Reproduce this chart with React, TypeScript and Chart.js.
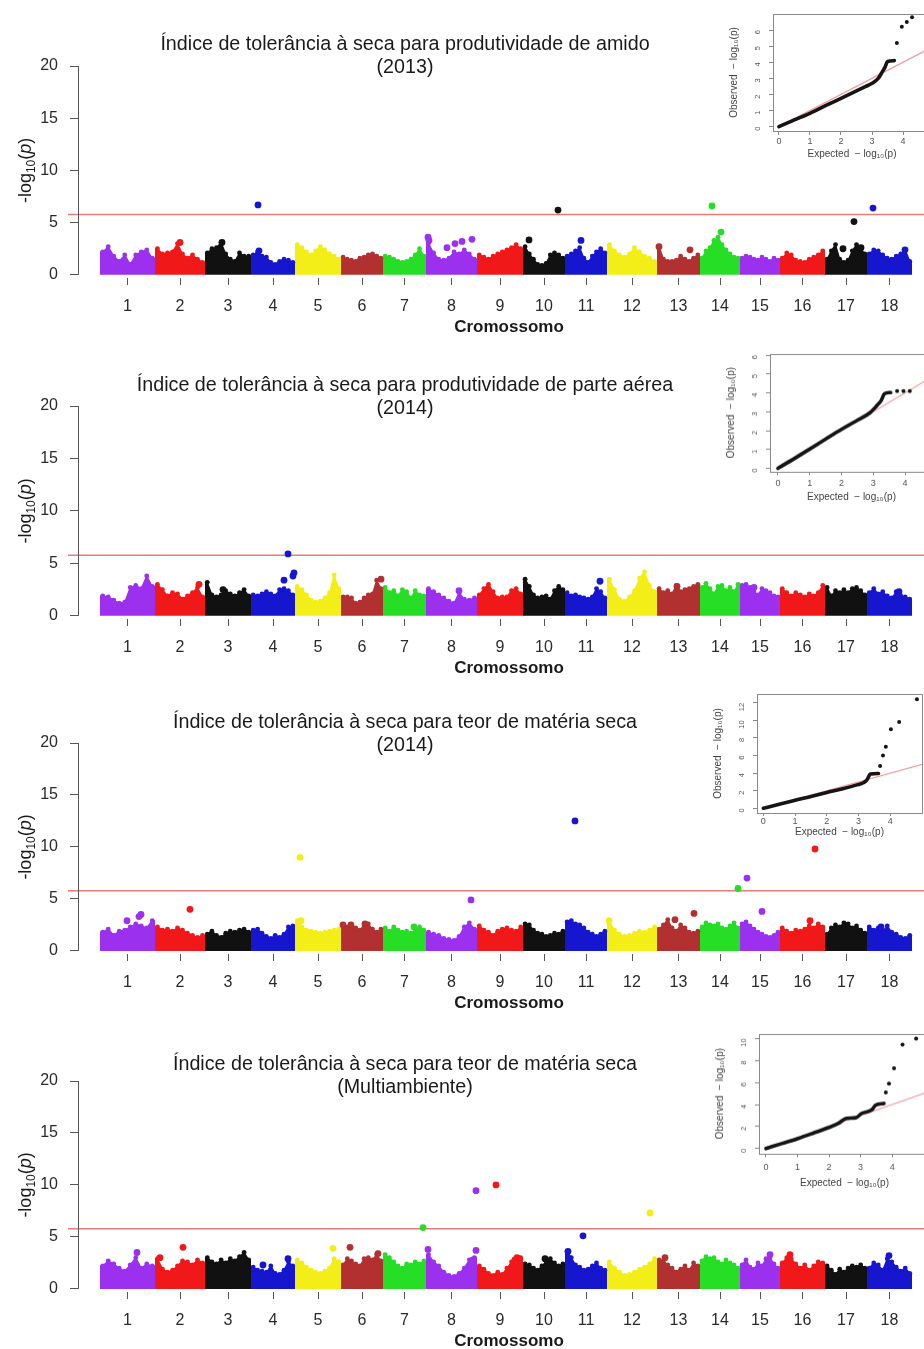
import React, { useEffect, useRef } from "react";
import { Chart, registerables } from "chart.js";

Chart.register(...registerables);

const FONT = '"Liberation Sans", Arial, Helvetica, sans-serif';

// ---- Genome axis -------------------------------------------------------
const chromosomeLabels = ["1", "2", "3", "4", "5", "6", "7", "8", "9", "10", "11", "12", "13", "14", "15", "16", "17", "18"];
const chromosomeLengths = [55, 50, 46, 44, 46, 42, 43, 51, 46, 42, 42, 50, 43, 40, 40, 45, 42, 45];
const chromosomeColours = ["#9b30ef", "#f01818", "#111111", "#1616cf", "#f4ee18", "#b33030", "#25de25"];
const manhattanYTicks = [0, 5, 10, 15, 20];
const genomeWideThreshold = 5.78;

// ---- Panel titles --------------------------------------------------------
const titleAmido2013 = ["Índice de tolerância à seca para produtividade de amido", "(2013)"];
const titleParteAerea2014 = ["Índice de tolerância à seca para produtividade de parte aérea", "(2014)"];
const titleMateriaSeca2014 = ["Índice de tolerância à seca para teor de matéria seca", "(2014)"];
const titleMateriaSecaMulti = ["Índice de tolerância à seca para teor de matéria seca", "(Multiambiente)"];

// ---- Binned maximum -log10(p) per chromosome (10 bins each) ---------------
const skylineAmido2013 = [
  [2.2, 2.7, 1.8, 1.3, 1.9, 1.0, 1.9, 2.2, 2.4, 1.6],
  [2.5, 2.0, 2.1, 2.2, 3.0, 2.0, 1.6, 1.9, 1.5, 1.2],
  [2.1, 2.5, 2.6, 3.1, 2.0, 1.5, 1.3, 2.1, 1.8, 1.8],
  [1.9, 2.2, 1.8, 1.7, 1.2, 1.0, 1.3, 1.5, 1.4, 1.2],
  [2.9, 2.6, 2.2, 1.9, 2.3, 2.7, 2.4, 2.0, 1.8, 1.5],
  [1.7, 1.5, 1.4, 1.3, 1.6, 1.7, 1.9, 2.0, 1.8, 1.6],
  [1.8, 1.7, 1.5, 1.3, 1.2, 1.3, 1.5, 1.9, 2.5, 1.8],
  [3.0, 2.1, 1.5, 1.4, 1.6, 2.2, 2.0, 2.4, 2.0, 1.5],
  [1.9, 1.7, 1.5, 1.8, 2.0, 2.2, 2.4, 2.6, 2.9, 2.5],
  [2.7, 2.0, 1.5, 1.0, 0.9, 1.1, 1.9, 2.1, 1.9, 1.6],
  [1.8, 2.0, 2.3, 2.6, 1.6, 1.2, 1.8, 2.2, 2.5, 2.1],
  [2.9, 2.3, 1.9, 1.7, 2.0, 2.6, 2.2, 1.8, 1.6, 1.3],
  [2.7, 1.5, 1.3, 1.3, 1.4, 1.8, 1.5, 1.3, 1.6, 1.9],
  [1.6, 2.3, 2.6, 3.3, 3.6, 2.9, 2.4, 2.0, 1.7, 1.6],
  [1.6, 1.8, 1.7, 1.5, 1.4, 1.7, 1.5, 1.3, 1.6, 1.4],
  [1.6, 2.1, 1.9, 1.4, 1.3, 1.2, 1.5, 1.7, 1.9, 2.3],
  [1.5, 2.3, 2.9, 1.5, 1.2, 1.4, 2.3, 2.9, 2.5, 2.0],
  [2.0, 2.4, 2.3, 1.9, 1.6, 1.5, 1.8, 2.0, 2.4, 1.3],
];
const skylineParteAerea2014 = [
  [1.9, 1.8, 1.5, 1.2, 1.3, 2.7, 2.9, 2.6, 3.8, 2.8],
  [3.0, 2.5, 1.9, 2.2, 2.1, 1.6, 1.9, 2.2, 2.7, 1.8],
  [3.2, 2.0, 1.8, 2.0, 2.4, 2.1, 1.9, 2.2, 2.5, 1.9],
  [2.0, 1.9, 2.1, 2.3, 2.1, 1.9, 2.5, 2.6, 2.4, 2.0],
  [2.8, 2.5, 2.0, 1.5, 1.3, 1.4, 1.7, 2.2, 3.9, 2.6],
  [1.8, 1.8, 1.7, 1.2, 1.3, 1.7, 2.0, 2.1, 3.4, 2.6],
  [2.7, 2.2, 2.4, 1.9, 2.5, 2.3, 1.7, 2.4, 2.0, 1.9],
  [2.6, 2.3, 2.0, 1.7, 1.4, 1.2, 2.2, 1.6, 1.5, 1.7],
  [2.0, 2.6, 3.0, 2.3, 1.7, 1.8, 1.8, 2.4, 2.6, 2.1],
  [3.5, 2.8, 2.0, 1.7, 1.8, 1.9, 1.6, 2.4, 2.8, 2.5],
  [2.2, 1.9, 2.0, 1.8, 1.7, 1.6, 1.8, 2.6, 2.3, 1.7],
  [3.5, 2.5, 1.6, 1.4, 1.8, 2.4, 3.6, 4.2, 2.9, 2.3],
  [2.6, 2.2, 2.4, 2.1, 2.9, 2.3, 2.5, 2.6, 2.8, 3.0],
  [2.7, 3.1, 2.6, 2.1, 2.8, 2.9, 2.4, 2.7, 2.3, 3.0],
  [2.9, 3.0, 2.7, 2.3, 2.0, 2.6, 2.4, 2.2, 1.9, 1.8],
  [2.6, 2.2, 1.9, 2.2, 2.0, 1.8, 2.1, 1.9, 2.2, 2.9],
  [2.7, 1.9, 2.4, 2.2, 2.5, 2.2, 2.6, 2.7, 2.4, 2.0],
  [2.2, 2.6, 2.1, 2.3, 1.9, 1.7, 2.3, 1.9, 1.8, 1.6],
];
const skylineMateriaSeca2014 = [
  [1.8, 2.1, 1.5, 1.9, 2.0, 2.3, 2.6, 2.4, 2.2, 2.9],
  [2.3, 2.0, 2.1, 1.9, 2.2, 2.0, 1.7, 1.5, 1.3, 1.5],
  [1.6, 1.9, 1.5, 1.3, 1.7, 1.9, 1.8, 2.0, 2.1, 1.8],
  [2.0, 2.1, 1.7, 1.4, 1.2, 1.5, 1.3, 1.6, 2.3, 2.4],
  [2.9, 2.3, 2.0, 1.9, 1.8, 1.7, 1.8, 1.9, 2.0, 2.1],
  [2.5, 2.3, 2.4, 2.2, 2.0, 2.5, 2.6, 2.1, 1.8, 2.1],
  [2.2, 1.9, 2.3, 2.0, 1.8, 1.9, 1.7, 2.0, 2.3, 2.0],
  [1.8, 1.6, 1.5, 1.2, 1.1, 1.0, 1.4, 2.3, 2.7, 2.1],
  [2.4, 2.0, 1.8, 1.5, 1.9, 2.1, 2.2, 2.0, 1.9, 2.3],
  [2.6, 2.5, 2.0, 1.7, 1.6, 1.4, 1.5, 1.7, 1.6, 1.9],
  [2.8, 2.9, 2.6, 2.5, 2.2, 1.8, 1.6, 1.4, 1.6, 1.9],
  [2.8, 2.0, 1.6, 1.4, 1.5, 1.7, 1.9, 1.8, 2.0, 2.3],
  [2.1, 2.5, 3.0, 2.2, 1.9, 2.5, 2.2, 1.8, 1.7, 1.9],
  [2.3, 2.7, 2.5, 2.4, 2.6, 2.2, 2.1, 2.4, 2.7, 2.2],
  [2.6, 2.8, 2.4, 2.1, 1.8, 1.6, 1.4, 1.3, 1.5, 1.8],
  [2.2, 1.9, 1.7, 2.0, 1.9, 2.1, 2.4, 2.2, 2.6, 2.3],
  [1.6, 2.2, 2.5, 2.3, 2.7, 2.6, 2.2, 2.4, 2.0, 1.7],
  [2.3, 2.0, 2.2, 1.9, 2.4, 1.8, 1.6, 1.3, 1.2, 1.5],
];
const skylineMateriaSecaMulti = [
  [2.2, 2.7, 2.4, 2.0, 1.7, 2.3, 3.0, 2.0, 2.4, 2.2],
  [2.9, 1.9, 1.6, 1.8, 2.2, 2.7, 2.6, 2.3, 2.8, 2.5],
  [3.0, 2.6, 2.4, 2.8, 2.5, 2.9, 2.7, 3.1, 3.5, 2.8],
  [2.1, 1.8, 1.7, 1.6, 2.2, 1.5, 1.4, 1.8, 2.6, 2.2],
  [2.8, 2.5, 2.1, 1.8, 1.6, 1.5, 1.7, 2.0, 2.9, 2.6],
  [2.3, 2.9, 2.7, 2.4, 2.2, 2.9, 3.0, 2.8, 3.3, 2.7],
  [3.3, 3.0, 2.6, 2.2, 2.0, 2.4, 2.3, 2.6, 2.4, 2.7],
  [3.3, 2.6, 2.2, 1.6, 1.3, 1.2, 1.5, 2.0, 2.8, 3.0],
  [2.2, 1.9, 1.5, 1.3, 1.6, 1.4, 2.0, 2.6, 2.9, 3.0],
  [2.4, 2.3, 2.0, 1.8, 2.2, 2.6, 2.9, 2.5, 2.2, 2.4],
  [3.6, 3.0, 2.3, 2.1, 1.8, 1.9, 2.2, 2.5, 2.0, 1.8],
  [2.6, 2.0, 1.6, 1.3, 1.4, 1.6, 1.9, 2.1, 2.4, 2.9],
  [2.8, 2.7, 2.3, 2.0, 1.6, 1.9, 2.2, 1.8, 2.5, 2.2],
  [2.7, 3.1, 2.9, 3.0, 2.6, 2.4, 2.8, 2.5, 2.3, 2.0],
  [2.3, 2.8, 2.1, 1.9, 2.5, 2.2, 2.9, 3.0, 2.4, 2.0],
  [2.5, 3.0, 2.9, 2.4, 2.0, 2.3, 1.8, 2.2, 2.6, 2.5],
  [2.2, 1.8, 1.4, 1.9, 1.6, 2.0, 2.2, 2.1, 2.3, 2.0],
  [2.0, 2.5, 2.3, 1.8, 2.9, 2.6, 2.1, 1.7, 2.0, 1.5],
];

// ---- Individual SNPs standing out: [chromosome, position on chromosome, -log10(p)]
const peaksAmido2013 = [
  [4, 7, 6.7], [10, 35, 6.2], [14, 12, 6.6], [14, 21, 4.1], [17, 29, 5.1], [18, 6, 6.4],
  [10, 6, 3.35], [11, 16, 3.3], [8, 2, 3.6], [8, 3, 3.3], [8, 21, 2.6], [8, 29, 3.0],
  [8, 36, 3.2], [8, 46, 3.4], [2, 25, 3.1], [3, 17, 3.1], [4, 8, 2.3], [13, 2, 2.7],
  [13, 33, 2.4], [17, 18, 2.5], [17, 36, 2.6], [18, 38, 2.4],
];
const peaksParteAerea2014 = [
  [4, 37, 5.9], [4, 43, 4.1], [4, 42, 3.8], [4, 33, 3.4], [2, 44, 3.0], [11, 35, 3.3],
  [8, 33, 2.4], [15, 14, 2.7], [18, 32, 2.3], [13, 20, 2.8], [3, 18, 2.5], [6, 40, 3.5],
];
const peaksMateriaSeca2014 = [
  [5, 5, 9.0], [11, 10, 12.5], [16, 35, 9.8], [15, 7, 7.0], [14, 38, 6.0], [8, 45, 4.9],
  [15, 22, 3.8], [2, 35, 4.0], [13, 18, 3.0], [13, 37, 3.6], [1, 27, 2.9], [1, 39, 3.3],
  [1, 41, 3.5], [16, 30, 2.9], [6, 2, 2.5], [6, 10, 2.5], [6, 24, 2.6], [7, 31, 2.3],
  [18, 14, 2.3], [12, 2, 2.9], [5, 6, 2.9],
];
const peaksMateriaSecaMulti = [
  [9, 19, 10.0], [8, 50, 9.45], [12, 43, 7.3], [7, 40, 5.9], [11, 18, 5.1], [2, 28, 4.0],
  [6, 9, 4.0], [5, 38, 3.9], [8, 2, 3.8], [8, 50, 3.7], [8, 47, 2.8], [1, 37, 3.5],
  [2, 5, 3.0], [6, 37, 3.4], [4, 12, 2.3], [4, 37, 2.9], [9, 38, 2.8], [9, 40, 3.0],
  [10, 22, 2.9], [13, 8, 3.0], [15, 30, 3.3], [16, 10, 3.3], [18, 22, 3.2], [11, 3, 3.6],
];

// ---- Q-Q plots: bulk of the distribution as [expected, observed] and top hits
const qqDiagonal = [0, 5.4];
const qqCurveAmido2013 = [[0, 0], [0.5, 0.42], [1, 0.83], [1.5, 1.3], [2, 1.76], [2.5, 2.22], [2.8, 2.5], [3.0, 2.69], [3.2, 3.0], [3.33, 3.4], [3.42, 3.7], [3.5, 4.05], [3.72, 4.1]];
const qqTopExpAmido2013 = [3.8, 3.96, 4.12, 4.29];
const qqTopObsAmido2013 = [5.2, 6.2, 6.5, 6.8];
const qqCurveParteAerea2014 = [[0, 0], [0.5, 0.5], [1, 1.02], [1.5, 1.55], [2, 2.07], [2.5, 2.55], [2.9, 2.95], [3.1, 3.3], [3.25, 3.6], [3.35, 3.95], [3.55, 4.02]];
const qqTopExpParteAerea2014 = [3.75, 3.95, 4.15];
const qqTopObsParteAerea2014 = [4.1, 4.1, 4.1];
const qqCurveMateriaSeca2014 = [[0, 0], [0.5, 0.45], [1, 0.92], [1.5, 1.35], [2, 1.79], [2.5, 2.22], [2.95, 2.66], [3.15, 2.9], [3.26, 3.2], [3.32, 3.6], [3.37, 3.9], [3.63, 3.95]];
const qqTopExpMateriaSeca2014 = [3.68, 3.77, 3.86, 4.02, 4.28, 4.84];
const qqTopObsMateriaSeca2014 = [4.8, 6.0, 7.0, 9.0, 9.8, 12.4];
const qqCurveMateriaSecaMulti = [[0, 0], [0.5, 0.45], [1, 0.9], [1.5, 1.4], [2, 1.92], [2.3, 2.3], [2.55, 2.75], [2.85, 2.8], [3.04, 3.2], [3.37, 3.55], [3.47, 3.94], [3.74, 4.1]];
const qqTopExpMateriaSecaMulti = [3.8, 3.9, 4.06, 4.33, 4.76];
const qqTopObsMateriaSecaMulti = [5.1, 5.9, 7.3, 9.45, 10.0];
const qqXTicks = [0, 1, 2, 3, 4];
const qqYTicksSmall = [0, 1, 2, 3, 4, 5, 6];
const qqYTicksWide = [0, 2, 4, 6, 8, 10, 12];

// ---- Derived genome coordinates ------------------------------------------
const chromosomeStarts: number[] = [];
chromosomeLengths.reduce((acc, len) => {
  chromosomeStarts.push(acc);
  return acc + len;
}, 0);
const chromosomeMids = chromosomeStarts.map((s, i) => s + chromosomeLengths[i] / 2);
const colourOf = (chrIndex: number) => chromosomeColours[chrIndex % chromosomeColours.length];

// ---- Layout --------------------------------------------------------------
const PAGE_W = 924;
const PAGE_H = 1349;
const M_CANVAS_W = 940;
const M_PAD_TOP = 66;
const M_AXIS_W = 78;
const M_XAXIS_H = 60;
const X_MIN = -22;
const X_MAX = 840;
const Y_MIN = -0.3;
const THRESHOLD_X_START = -32;

const panels = [
  { key: "a", title: titleAmido2013, skyline: skylineAmido2013, peaks: peaksAmido2013, y20: 66, y0: 275, titleDy: [-21, 2] },
  { key: "b", title: titleParteAerea2014, skyline: skylineParteAerea2014, peaks: peaksParteAerea2014, y20: 406, y0: 616, titleDy: [-20, 3] },
  { key: "c", title: titleMateriaSeca2014, skyline: skylineMateriaSeca2014, peaks: peaksMateriaSeca2014, y20: 743, y0: 951, titleDy: [-20, 3] },
  { key: "d", title: titleMateriaSecaMulti, skyline: skylineMateriaSecaMulti, peaks: peaksMateriaSecaMulti, y20: 1081, y0: 1289, titleDy: [-16, 7] },
];

const insets = [
  { key: "qa", curve: qqCurveAmido2013, topExp: qqTopExpAmido2013, topObs: qqTopObsAmido2013, box: { l: 773, t: 14, b: 131, r: 931 }, x: [-0.19, 4.9], y: [-0.27, 7.0], yTicks: qqYTicksSmall, xH: 29, xPad: 1, xTick: 4 },
  { key: "qb", curve: qqCurveParteAerea2014, topExp: qqTopExpParteAerea2014, topObs: qqTopObsParteAerea2014, box: { l: 770, t: 354, b: 471, r: 933 }, x: [-0.25, 4.88], y: [-0.16, 6.06], yTicks: qqYTicksSmall, xH: 31.5, xPad: 3, xTick: 4 },
  { key: "qc", curve: qqCurveMateriaSeca2014, topExp: qqTopExpMateriaSeca2014, topObs: qqTopObsMateriaSeca2014, box: { l: 757, t: 694, b: 813, r: 922 }, x: [-0.2, 5.0], y: [-0.54, 13.0], yTicks: qqYTicksWide, xH: 25, xPad: 0, xTick: 3 },
  { key: "qd", curve: qqCurveMateriaSecaMulti, topExp: qqTopExpMateriaSecaMulti, topObs: qqTopObsMateriaSecaMulti, box: { l: 759, t: 1034, b: 1153, r: 930 }, x: [-0.22, 5.2], y: [-0.43, 10.4], yTicks: qqYTicksWide.slice(0, 6), xH: 35.5, xPad: 5, xTick: 4 },
];

// Axis line, panel title and the -log10(p) label with subscript / italic p
const manhattanDecor = {
  id: "manhattanDecor",
  afterDraw(chart: any, _args: any, opts: any) {
    const { ctx, chartArea, scales } = chart;
    const y = scales.y;
    const top = y.getPixelForValue(manhattanYTicks[manhattanYTicks.length - 1]);
    const zero = y.getPixelForValue(0);
    ctx.save();
    ctx.strokeStyle = "#555";
    ctx.lineWidth = 1;
    const ax = Math.round(chartArea.left) + 0.5;
    ctx.beginPath();
    ctx.moveTo(ax, zero);
    ctx.lineTo(ax, top);
    ctx.stroke();

    ctx.fillStyle = "#1a1a1a";
    ctx.font = `19.7px ${FONT}`;
    ctx.textAlign = "center";
    ctx.textBaseline = "middle";
    (opts.lines as string[]).forEach((t, i) => ctx.fillText(t, opts.titleX, chartArea.top + opts.titleDy[i]));

    ctx.translate(opts.yTitleX, (top + zero) / 2);
    ctx.rotate(-Math.PI / 2);
    const main = `18px ${FONT}`;
    const parts = [
      { t: "-log", f: main, dy: 0 },
      { t: "10", f: `12px ${FONT}`, dy: 4 },
      { t: "(", f: main, dy: 0 },
      { t: "p", f: `italic 18px ${FONT}`, dy: 0 },
      { t: ")", f: main, dy: 0 },
    ];
    let total = 0;
    const widths = parts.map((p) => {
      ctx.font = p.f;
      const w = ctx.measureText(p.t).width;
      total += w;
      return w;
    });
    ctx.textAlign = "left";
    ctx.textBaseline = "alphabetic";
    let cx = -total / 2;
    parts.forEach((p, i) => {
      ctx.font = p.f;
      ctx.fillText(p.t, cx, 6 + p.dy);
      cx += widths[i];
    });
    ctx.restore();
  },
};

const frame = {
  id: "frame",
  afterDraw(chart: any) {
    const { ctx, chartArea } = chart;
    ctx.save();
    ctx.strokeStyle = "#8a8a8a";
    ctx.lineWidth = 1;
    ctx.strokeRect(Math.round(chartArea.left) + 0.5, Math.round(chartArea.top) + 0.5, Math.round(chartArea.right - chartArea.left), Math.round(chartArea.bottom - chartArea.top));
    ctx.restore();
  },
};

const noScalePadding = (s: any) => {
  s.paddingTop = 0;
  s.paddingBottom = 0;
  s.paddingLeft = 0;
  s.paddingRight = 0;
};

function ManhattanPanel({ spec }: { spec: any }) {
  const ref = useRef<HTMLCanvasElement>(null);
  const areaH = spec.y0 - spec.y20 + 3;
  const height = M_PAD_TOP + areaH + M_XAXIS_H;
  const top = spec.y20 - M_PAD_TOP;

  useEffect(() => {
    const canvas = ref.current;
    if (!canvas) return;
    const datasets: any[] = [];
    (spec.skyline as number[][]).forEach((bins, c) => {
      const colour = colourOf(c);
      const start = chromosomeStarts[c];
      const len = chromosomeLengths[c];
      const n = bins.length;
      const pts = [{ x: start, y: bins[0] }];
      bins.forEach((v, i) => pts.push({ x: start + ((i + 0.5) * len) / n, y: v }));
      pts.push({ x: start + len, y: bins[n - 1] });
      datasets.push({
        data: pts,
        borderColor: colour,
        backgroundColor: colour,
        fill: "origin",
        borderWidth: 1.3,
        tension: 0,
        pointRadius: (ctx: any) => (ctx.dataIndex === 0 || ctx.dataIndex === n + 1 ? 0 : 2.4),
        pointBackgroundColor: colour,
        pointBorderWidth: 0,
        order: 2,
      });
    });
    datasets.push({
      data: (spec.peaks as number[][]).map(([c, p, v]) => ({ x: chromosomeStarts[c - 1] + p, y: v })),
      showLine: false,
      pointRadius: 3.4,
      pointBackgroundColor: (spec.peaks as number[][]).map(([c]) => colourOf(c - 1)),
      pointBorderWidth: 0,
      order: 0,
    });
    datasets.push({
      data: [
        { x: THRESHOLD_X_START, y: genomeWideThreshold },
        { x: X_MAX, y: genomeWideThreshold },
      ],
      borderColor: "rgba(232,100,100,0.85)",
      borderWidth: 1.5,
      pointRadius: 0,
      fill: false,
      clip: false,
      order: 1,
    });

    const chart = new Chart(canvas, {
      type: "line",
      data: { datasets },
      plugins: [manhattanDecor],
      options: {
        animation: false,
        responsive: false,
        devicePixelRatio: 1,
        layout: { autoPadding: false, padding: { top: M_PAD_TOP, left: 0, right: 0, bottom: 0 } },
        plugins: {
          legend: { display: false },
          tooltip: { enabled: false },
          manhattanDecor: { lines: spec.title, titleX: 405, titleDy: spec.titleDy, yTitleX: 25 },
        } as any,
        scales: {
          x: {
            type: "linear",
            min: X_MIN,
            max: X_MAX,
            afterBuildTicks: (s: any) => {
              s.ticks = chromosomeMids.map((v) => ({ value: v }));
            },
            afterFit: (s: any) => {
              s.height = M_XAXIS_H;
              noScalePadding(s);
            },
            ticks: {
              autoSkip: false,
              maxRotation: 0,
              padding: 12,
              color: "#2a2a2a",
              font: { family: FONT, size: 16 },
              callback: (value: any) => chromosomeLabels[chromosomeMids.indexOf(value)],
            },
            grid: { drawOnChartArea: false, drawTicks: true, tickLength: 7, color: "#555" },
            border: { display: false },
            title: { display: true, text: "Cromossomo", color: "#1a1a1a", padding: 0, font: { family: FONT, size: 17, weight: "bold" } },
          },
          y: {
            min: Y_MIN,
            max: manhattanYTicks[manhattanYTicks.length - 1],
            afterBuildTicks: (s: any) => {
              s.ticks = manhattanYTicks.map((v) => ({ value: v }));
            },
            afterFit: (s: any) => {
              s.width = M_AXIS_W;
              noScalePadding(s);
            },
            ticks: { padding: 12, color: "#2a2a2a", font: { family: FONT, size: 16 } },
            grid: { drawOnChartArea: false, drawTicks: true, tickLength: 8, color: "#555" },
            border: { display: false },
          },
        } as any,
      },
    } as any);
    return () => chart.destroy();
  }, []);

  return (
    <canvas
      ref={ref}
      width={M_CANVAS_W}
      height={height}
      style={{ position: "absolute", left: 0, top, width: M_CANVAS_W, height }}
    />
  );
}

const QQ_Y_W = 45;
const QQ_PAD_TOP = 6;
const QQ_PAD_RIGHT = 2;

function QQInset({ spec }: { spec: any }) {
  const ref = useRef<HTMLCanvasElement>(null);
  const { l, t, b, r } = spec.box;
  const left = l - QQ_Y_W;
  const top = t - QQ_PAD_TOP;
  const width = r - l + QQ_Y_W + QQ_PAD_RIGHT;
  const height = QQ_PAD_TOP + (b - t) + spec.xH;

  useEffect(() => {
    const canvas = ref.current;
    if (!canvas) return;
    const chart = new Chart(canvas, {
      type: "line",
      data: {
        datasets: [
          {
            data: [
              { x: qqDiagonal[0], y: qqDiagonal[0] },
              { x: qqDiagonal[1], y: qqDiagonal[1] },
            ],
            borderColor: "#f19c9c",
            borderWidth: 1.2,
            pointRadius: 0,
            order: 2,
          },
          {
            data: (spec.curve as number[][]).map(([x, y]) => ({ x, y })),
            borderColor: "#151515",
            borderWidth: 3.6,
            borderCapStyle: "round",
            borderJoinStyle: "round",
            cubicInterpolationMode: "monotone",
            pointRadius: 0,
            order: 1,
          },
          {
            data: (spec.topExp as number[]).map((x, i) => ({ x, y: spec.topObs[i] })),
            showLine: false,
            pointRadius: 2,
            pointBackgroundColor: "#151515",
            pointBorderWidth: 0,
            order: 0,
          },
        ],
      },
      plugins: [frame],
      options: {
        animation: false,
        responsive: false,
        devicePixelRatio: 1,
        layout: { autoPadding: false, padding: { top: QQ_PAD_TOP, right: QQ_PAD_RIGHT, left: 0, bottom: 0 } },
        plugins: { legend: { display: false }, tooltip: { enabled: false } },
        scales: {
          x: {
            type: "linear",
            min: spec.x[0],
            max: spec.x[1],
            afterBuildTicks: (s: any) => {
              s.ticks = qqXTicks.map((v) => ({ value: v }));
            },
            afterFit: (s: any) => {
              s.height = spec.xH;
              noScalePadding(s);
            },
            ticks: { autoSkip: false, maxRotation: 0, padding: spec.xPad, color: "#555", font: { family: FONT, size: 9 } },
            grid: { drawOnChartArea: false, drawTicks: true, tickLength: spec.xTick, color: "#888" },
            border: { display: false },
            title: { display: true, text: "Expected  − log₁₀(p)", color: "#444", padding: 0, font: { family: FONT, size: 10 } },
          },
          y: {
            min: spec.y[0],
            max: spec.y[1],
            afterBuildTicks: (s: any) => {
              s.ticks = (spec.yTicks as number[]).map((v) => ({ value: v }));
            },
            afterFit: (s: any) => {
              s.width = QQ_Y_W;
              noScalePadding(s);
            },
            ticks: { autoSkip: false, minRotation: 90, maxRotation: 90, padding: 11, color: "#555", font: { family: FONT, size: 7.5 } },
            grid: { drawOnChartArea: false, drawTicks: true, tickLength: 4, color: "#888" },
            border: { display: false },
            title: { display: true, text: "Observed  − log₁₀(p)", color: "#444", padding: 0, font: { family: FONT, size: 10 } },
          },
        } as any,
      },
    } as any);
    return () => chart.destroy();
  }, []);

  return <canvas ref={ref} width={width} height={height} style={{ position: "absolute", left, top, width, height }} />;
}

export default function App() {
  return (
    <div
      style={{
        position: "fixed",
        left: 0,
        top: 0,
        width: PAGE_W,
        height: PAGE_H,
        overflow: "hidden",
        background: "#ffffff",
      }}
    >
      {panels.map((p) => (
        <ManhattanPanel key={p.key} spec={p} />
      ))}
      {insets.map((q) => (
        <QQInset key={q.key} spec={q} />
      ))}
    </div>
  );
}
